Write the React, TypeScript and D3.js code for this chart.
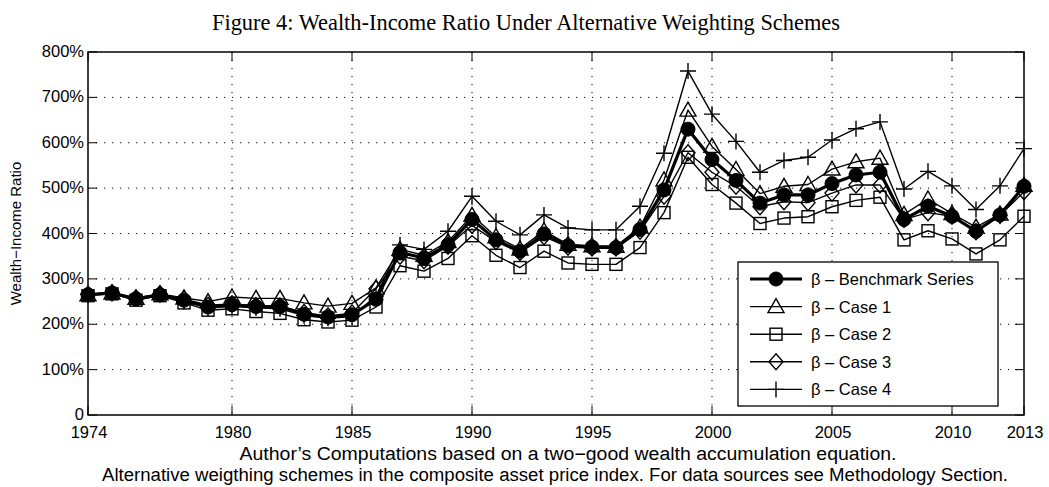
import * as d3 from 'd3';

const years = d3.range(1974, 2014);

const benchmark = [265, 269, 256, 265, 253, 238, 243, 239, 239, 222, 216, 221, 255, 358, 346, 375, 431, 386, 361, 399, 373, 370, 369, 409, 496, 630, 563, 517, 467, 485, 485, 510, 529, 535, 431, 460, 438, 405, 441, 504];
const case1 = [265, 269, 257, 267, 258, 250, 260, 257, 257, 247, 240, 246, 280, 365, 352, 382, 440, 393, 366, 406, 376, 373, 372, 414, 518, 672, 592, 541, 488, 504, 508, 542, 558, 566, 442, 476, 444, 414, 443, 506];
const case2 = [263, 267, 253, 263, 247, 231, 234, 228, 224, 210, 205, 209, 238, 329, 317, 345, 395, 352, 325, 361, 335, 332, 332, 369, 446, 568, 508, 467, 422, 434, 437, 459, 473, 480, 386, 406, 388, 355, 386, 438];
const case3 = [266, 269, 258, 267, 256, 242, 245, 241, 240, 226, 218, 225, 278, 350, 340, 372, 418, 382, 358, 393, 370, 368, 368, 405, 482, 578, 535, 504, 459, 470, 468, 489, 507, 507, 431, 446, 438, 404, 440, 492];
const case4 = [266, 270, 256, 266, 250, 236, 239, 236, 234, 219, 213, 217, 262, 375, 365, 405, 482, 427, 397, 441, 412, 408, 408, 460, 577, 758, 663, 603, 535, 561, 568, 606, 631, 646, 498, 537, 505, 453, 505, 587];

const xTicks = [1974, 1980, 1985, 1990, 1995, 2000, 2005, 2010, 2013];
const yTicks = [0, 100, 200, 300, 400, 500, 600, 700, 800];

type MarkerKind = 'circle' | 'triangle' | 'square' | 'diamond' | 'plus';

const seriesList: { name: string; values: number[]; marker: MarkerKind }[] = [
  { name: 'β – Case 1', values: case1, marker: 'triangle' },
  { name: 'β – Case 2', values: case2, marker: 'square' },
  { name: 'β – Case 3', values: case3, marker: 'diamond' },
  { name: 'β – Case 4', values: case4, marker: 'plus' },
  { name: 'β – Benchmark Series', values: benchmark, marker: 'circle' },
];
const legendOrder = [4, 0, 1, 2, 3];

const Marker = ({ kind, x, y }: { kind: MarkerKind; x: number; y: number }) => {
  const s = 'black';
  if (kind === 'circle') return <circle cx={x} cy={y} r={7} fill={s} stroke={s} />;
  if (kind === 'triangle')
    return <path d={`M${x},${y - 8}L${x + 8},${y + 6}L${x - 8},${y + 6}Z`} fill="none" stroke={s} strokeWidth={1.4} />;
  if (kind === 'square')
    return <rect x={x - 6} y={y - 6} width={12} height={12} fill="none" stroke={s} strokeWidth={1.4} />;
  if (kind === 'diamond')
    return <path d={`M${x},${y - 8}L${x + 7},${y}L${x},${y + 8}L${x - 7},${y}Z`} fill="none" stroke={s} strokeWidth={1.4} />;
  return <path d={`M${x - 8},${y}H${x + 8}M${x},${y - 8}V${y + 8}`} stroke={s} strokeWidth={1.4} />;
};

const App = () => {
  const left = 88, right = 1024, top = 52, bottom = 415;
  const x = d3.scaleLinear().domain([1974, 2013]).range([left, right]);
  const y = d3.scaleLinear().domain([0, 800]).range([bottom, top]);
  const line = d3.line<number>().x((_, i) => x(years[i])).y((d) => y(d));
  const sans = '"Liberation Sans", Arial, sans-serif';

  const lgX = 738, lgY = 262, lgW = 260, lgH = 144, rowH = 27.6;

  return (
    <svg width={1049} height={487} style={{ position: 'absolute', left: 0, top: 0, background: 'white' }}>
      <text x={526} y={30} textAnchor="middle" fontFamily='"Liberation Serif", serif' fontSize={23} textLength={628} lengthAdjust="spacingAndGlyphs">
        Figure 4: Wealth-Income Ratio Under Alternative Weighting Schemes
      </text>

      {/* grid */}
      <g stroke="black" strokeWidth={1} strokeDasharray="1.2,6.8">
        {xTicks.slice(1, -1).map((t) => (
          <line key={t} x1={x(t)} x2={x(t)} y1={top} y2={bottom} />
        ))}
        {yTicks.slice(1, -1).map((t) => (
          <line key={t} x1={left} x2={right} y1={y(t)} y2={y(t)} />
        ))}
      </g>

      {/* ticks */}
      <g stroke="black" strokeWidth={1}>
        {xTicks.map((t) => (
          <g key={t}>
            <line x1={x(t)} x2={x(t)} y1={bottom} y2={bottom - 9} />
            <line x1={x(t)} x2={x(t)} y1={top} y2={top + 9} />
          </g>
        ))}
        {yTicks.map((t) => (
          <g key={t}>
            <line x1={left} x2={left + 9} y1={y(t)} y2={y(t)} />
            <line x1={right} x2={right - 9} y1={y(t)} y2={y(t)} />
          </g>
        ))}
      </g>

      {/* series */}
      {seriesList.map((s) => (
        <g key={s.name}>
          <path d={line(s.values) || ''} fill="none" stroke="black" strokeWidth={s.marker === 'circle' ? 3.2 : 1.4} strokeLinejoin="round" />
          {s.values.map((v, i) => (
            <Marker key={i} kind={s.marker} x={x(years[i])} y={y(v)} />
          ))}
        </g>
      ))}

      <rect x={left} y={top} width={right - left} height={bottom - top} fill="none" stroke="black" strokeWidth={1.5} />

      {/* tick labels */}
      <g fontFamily={sans} fontSize={16.5} fill="black">
        {xTicks.map((t) => (
          <text key={t} x={x(t) + 1} y={bottom + 23} textAnchor="middle">{t}</text>
        ))}
        {yTicks.map((t) => (
          <text key={t} x={left - 4} y={y(t) + 5} textAnchor="end">{t === 0 ? '0' : `${t}%`}</text>
        ))}
      </g>

      <text transform={`translate(21,${(top + bottom) / 2}) rotate(-90)`} textAnchor="middle" fontFamily={sans} fontSize={15}>
        Wealth−Income Ratio
      </text>

      {/* legend */}
      <rect x={lgX} y={lgY} width={lgW} height={lgH} fill="white" stroke="black" strokeWidth={1.3} />
      {legendOrder.map((idx, r) => {
        const s = seriesList[idx];
        const cy = lgY + 17 + r * rowH;
        return (
          <g key={s.name}>
            <line x1={lgX + 12} x2={lgX + 64} y1={cy} y2={cy} stroke="black" strokeWidth={s.marker === 'circle' ? 3.2 : 1.4} />
            <Marker kind={s.marker} x={lgX + 38} y={cy} />
            <text x={lgX + 73} y={cy + 6} fontFamily={sans} fontSize={16.5}>{s.name}</text>
          </g>
        );
      })}

      <text x={568} y={460} textAnchor="middle" fontFamily={sans} fontSize={18} textLength={657} lengthAdjust="spacingAndGlyphs">
        Author’s Computations based on a two−good wealth accumulation equation.
      </text>
      <text x={555} y={481} textAnchor="middle" fontFamily={sans} fontSize={18} textLength={906} lengthAdjust="spacingAndGlyphs">
        Alternative weigthing schemes in the composite asset price index. For data sources see Methodology Section.
      </text>
    </svg>
  );
};

export default App;
